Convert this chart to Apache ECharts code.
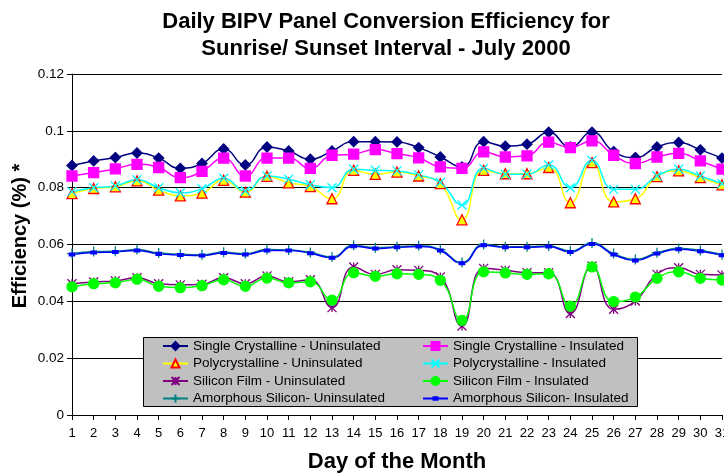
<!DOCTYPE html>
<html>
<head>
<meta charset="utf-8">
<title>BIPV efficiency</title>
<script src="https://cdn.jsdelivr.net/npm/echarts@6/dist/echarts.min.js"></script>
<style>
    html, body {margin: 0; padding: 0; background: #fff;}
    #main {width: 724px; height: 474px;}
</style>
</head>
<body>
<div id="main"></div>
<script>
//日期 1-31
var days = ['1', '2', '3', '4', '5', '6', '7', '8', '9', '10', '11', '12', '13', '14', '15', '16',
    '17', '18', '19', '20', '21', '22', '23', '24', '25', '26', '27', '28', '29', '30', '31'];
var yTicks = [0, 0.02, 0.04, 0.06, 0.08, 0.1, 0.12];

var scUninsulated = [0.0878, 0.0894, 0.0906, 0.0922, 0.0904, 0.0868, 0.0885, 0.0936, 0.0880, 0.0943, 0.0929,
    0.0900, 0.0929, 0.0962, 0.0962, 0.0961, 0.0941, 0.0908, 0.0873, 0.0962, 0.0946, 0.0953, 0.0995, 0.0943,
    0.0995, 0.0927, 0.0906, 0.0943, 0.0959, 0.0933, 0.0904];
var scInsulated = [0.0841, 0.0853, 0.0866, 0.0882, 0.0871, 0.0835, 0.0857, 0.0904, 0.0841, 0.0904, 0.0904,
    0.0868, 0.0914, 0.0918, 0.0934, 0.0920, 0.0905, 0.0873, 0.0868, 0.0926, 0.0908, 0.0912, 0.0960, 0.0941,
    0.0965, 0.0914, 0.0885, 0.0908, 0.0921, 0.0894, 0.0865];
var pcUninsulated = [0.0779, 0.0797, 0.0803, 0.0824, 0.0791, 0.0771, 0.0781, 0.0826, 0.0784, 0.0840, 0.0817,
    0.0804, 0.0761, 0.0861, 0.0847, 0.0855, 0.0841, 0.0814, 0.0687, 0.0861, 0.0849, 0.0849, 0.0871, 0.0747,
    0.0888, 0.0750, 0.0761, 0.0839, 0.0859, 0.0835, 0.0810];
var pcInsulated = [0.0786, 0.0800, 0.0806, 0.0828, 0.0800, 0.0782, 0.0796, 0.0833, 0.0788, 0.0841, 0.0830,
    0.0810, 0.0800, 0.0865, 0.0861, 0.0859, 0.0845, 0.0818, 0.0739, 0.0868, 0.0847, 0.0847, 0.0880, 0.0800,
    0.0896, 0.0794, 0.0794, 0.0841, 0.0865, 0.0841, 0.0814];
var sfUninsulated = [0.0462, 0.0468, 0.0472, 0.0483, 0.0462, 0.0458, 0.0460, 0.0483, 0.0462, 0.0489, 0.0469,
    0.0476, 0.0378, 0.0521, 0.0495, 0.0511, 0.0509, 0.0486, 0.0313, 0.0516, 0.0509, 0.0501, 0.0501, 0.0357,
    0.0524, 0.0372, 0.0401, 0.0495, 0.0518, 0.0495, 0.0493];
var sfInsulated = [0.0451, 0.0462, 0.0465, 0.0478, 0.0453, 0.0448, 0.0455, 0.0476, 0.0453, 0.0482, 0.0465,
    0.0469, 0.0404, 0.0501, 0.0488, 0.0497, 0.0495, 0.0474, 0.0333, 0.0504, 0.0500, 0.0495, 0.0497, 0.0383,
    0.0521, 0.0399, 0.0415, 0.0481, 0.0504, 0.0481, 0.0475];
var amUninsulated = [0.0568, 0.0575, 0.0576, 0.0582, 0.0570, 0.0566, 0.0564, 0.0573, 0.0568, 0.0582, 0.0581,
    0.0572, 0.0556, 0.0597, 0.0589, 0.0592, 0.0596, 0.0582, 0.0537, 0.0600, 0.0592, 0.0592, 0.0595, 0.0577,
    0.0605, 0.0568, 0.0547, 0.0571, 0.0586, 0.0579, 0.0565];
var amInsulated = [0.0565, 0.0572, 0.0574, 0.0579, 0.0567, 0.0563, 0.0561, 0.0570, 0.0565, 0.0579, 0.0579,
    0.0569, 0.0553, 0.0594, 0.0586, 0.0590, 0.0593, 0.0579, 0.0534, 0.0597, 0.0590, 0.0590, 0.0593, 0.0574,
    0.0602, 0.0565, 0.0544, 0.0568, 0.0583, 0.0576, 0.0562];

var FONT = 'Liberation Sans, Arial, sans-serif';

//生成一条曲线
function makeLine(name, data, color, symbol, size, fill, border) {
    return {
        name: name,
        type: 'line',
        data: data,
        smooth: 0.5,
        symbol: symbol,
        symbolSize: size,
        showSymbol: true,
        lineStyle: {color: color, width: 1.5},
        itemStyle: {color: fill, borderColor: border, borderWidth: 1.3, opacity: 1},
        emphasis: {disabled: true}
    };
}

var xMark = 'path://M0,0L10,10M10,0L0,10';
var starMark = 'path://M5,0L5,10M0,0L10,10M10,0L0,10';
var plusMark = 'path://M5,0L5,10M0,5L10,5';
//图例里蓝线的小横杠
var dashIcon = 'path://M0,5L25,5M10.5,3.8L14.5,3.8L14.5,6.2L10.5,6.2Z';

var series = [
    makeLine('Single Crystalline - Uninsulated', scUninsulated, '#000080', 'diamond', 10, '#000080', '#000080'),
    makeLine('Single Crystalline - Insulated', scInsulated, '#FF00FF', 'rect', 10, '#FF00FF', '#FF00FF'),
    makeLine('Polycrystalline - Uninsulated', pcUninsulated, '#FFFF00', 'triangle', 10, '#FFFF00', '#FF0000'),
    makeLine('Polycrystalline - Insulated', pcInsulated, '#00FFFF', xMark, 9, 'none', '#00FFFF'),
    makeLine('Silicon Film - Uninsulated', sfUninsulated, '#800080', starMark, 9, 'none', '#800080'),
    makeLine('Silicon Film - Insulated', sfInsulated, '#00FF00', 'circle', 10, '#00FF00', '#00FF00'),
    makeLine('Amorphous Silicon- Uninsulated', amUninsulated, '#008080', plusMark, 10, 'none', '#008080'),
    makeLine('Amorphous Silicon- Insulated', amInsulated, '#0000FF', 'rect', [5, 3], '#0000FF', '#0000FF')
];

//图例的公共配置
function legendCol(left, names) {
    return {
        orient: 'vertical',
        left: left,
        top: 338,
        padding: 0,
        itemGap: 1.5,
        itemWidth: 25,
        itemHeight: 10,
        z: 10,
        textStyle: {fontFamily: FONT, fontSize: 13.5, lineHeight: 16, color: '#000'},
        data: names
    };
}

var myCharts = echarts.init(document.getElementById('main'));
myCharts.setOption({
    animation: false,
    backgroundColor: '#fff',
    textStyle: {fontFamily: FONT},
    grid: {left: 72, right: 2, top: 74, bottom: 59, outerBoundsMode: 'none'},
    legend: [
        legendCol(162, [series[0].name, series[2].name, series[4].name, series[6].name]),
        legendCol(422, [series[1].name, series[3].name, series[5].name, {name: series[7].name, icon: dashIcon}])
    ],
    graphic: [{
        type: 'rect',
        z: 5,
        shape: {x: 143.5, y: 337.5, width: 494, height: 69},
        style: {fill: '#C0C0C0', stroke: '#000', lineWidth: 1}
    }, {
        type: 'text',
        z: 10,
        x: 386,
        y: 8,
        style: {
            text: 'Daily BIPV Panel Conversion Efficiency for\nSunrise/ Sunset Interval - July 2000',
            font: 'bold 22px ' + FONT,
            fill: '#000',
            textAlign: 'center',
            textVerticalAlign: 'top',
            lineHeight: 27
        }
    }, {
        type: 'text',
        z: 10,
        x: 20,
        y: 236,
        rotation: Math.PI / 2,
        style: {
            text: 'Efficiency (%) *',
            font: 'bold 20px ' + FONT,
            fill: '#000',
            textAlign: 'center',
            textVerticalAlign: 'middle'
        }
    }],
    xAxis: {
        type: 'category',
        data: days,
        boundaryGap: false,
        name: 'Day of the Month',
        nameLocation: 'middle',
        nameGap: 36,
        nameTextStyle: {fontFamily: FONT, fontSize: 22, fontWeight: 'bold', color: '#000'},
        axisLine: {lineStyle: {color: '#000', width: 1}},
        axisTick: {show: true, alignWithLabel: true, length: 5, lineStyle: {color: '#000'}},
        axisLabel: {fontFamily: FONT, fontSize: 13, color: '#000', margin: 12, interval: 0},
        splitLine: {show: false}
    },
    yAxis: {
        type: 'value',
        min: yTicks[0],
        max: yTicks[yTicks.length - 1],
        interval: 0.02,
        axisLine: {show: true, lineStyle: {color: '#000', width: 1}},
        axisTick: {show: true, length: 5, lineStyle: {color: '#000'}},
        axisLabel: {
            fontFamily: FONT, fontSize: 13.5, color: '#000', margin: 8,
            formatter: function (v) {
                return String(Math.round(v * 100) / 100);
            }
        },
        splitLine: {show: true, lineStyle: {color: '#000', width: 1}}
    },
    series: series
});
</script>
</body>
</html>
